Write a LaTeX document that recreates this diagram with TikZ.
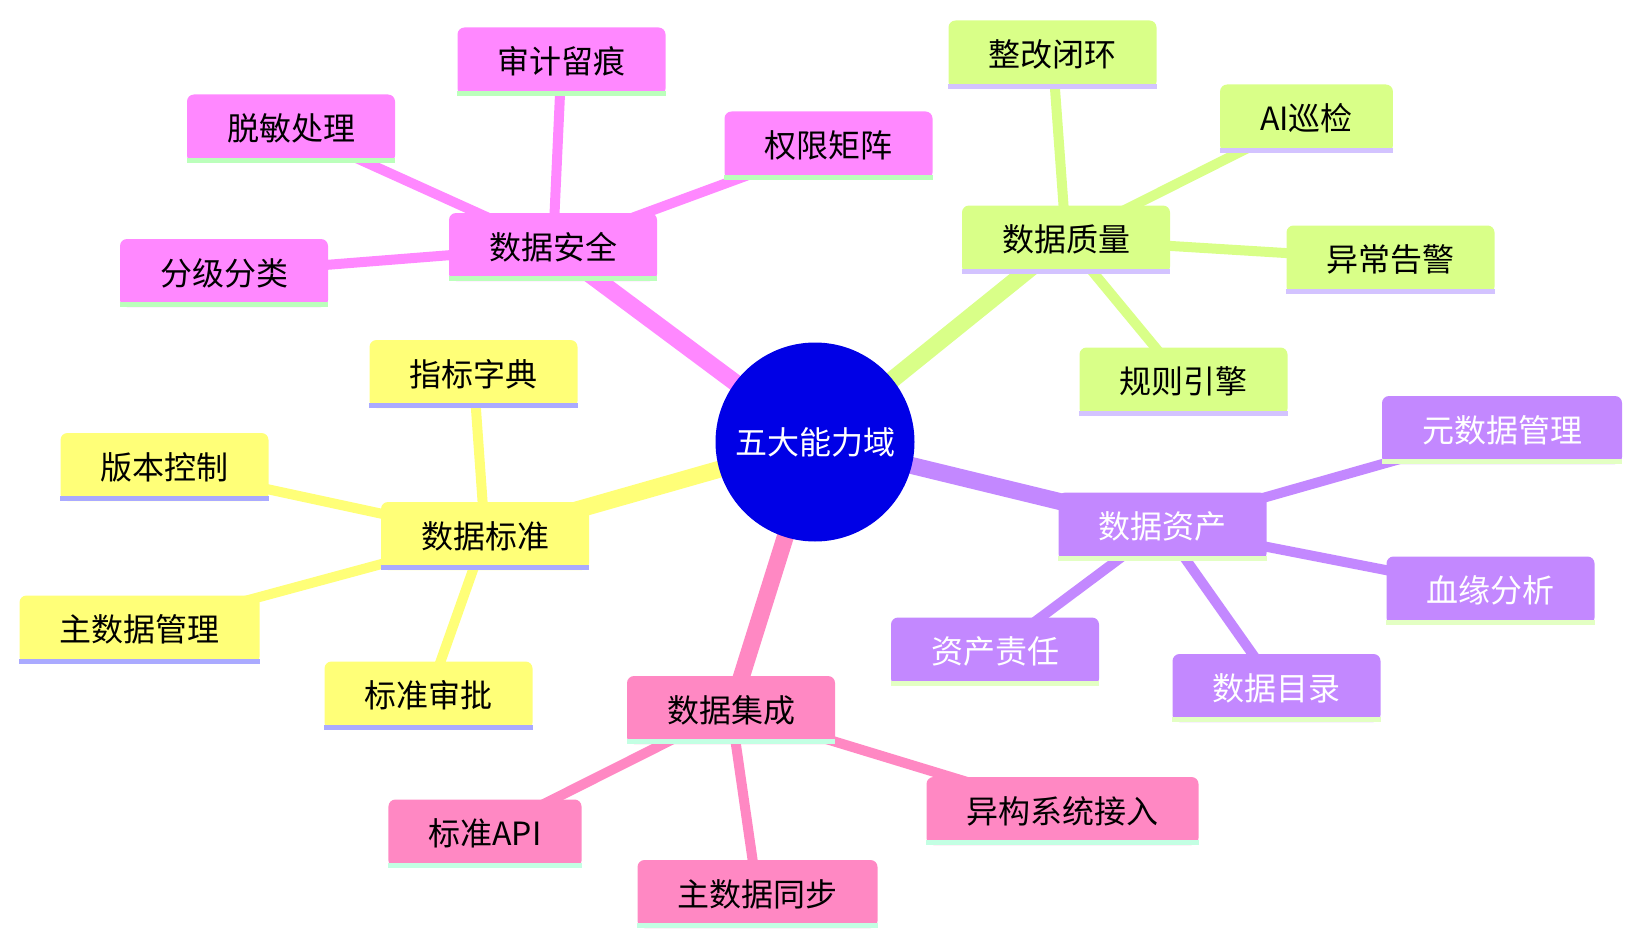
\documentclass[tikz,border=0pt]{standalone}
\usepackage{fontspec}
\newfontfamily\cjk{Noto Sans CJK SC}
\usetikzlibrary{backgrounds}
\definecolor{rootfill}{RGB}{0,0,230}
\definecolor{secfill}{HTML}{FF88FF}
\definecolor{secline}{HTML}{BBFFBB}
\definecolor{quafill}{HTML}{D9FF88}
\definecolor{qualine}{HTML}{D3C3FF}
\definecolor{astfill}{HTML}{C388FF}
\definecolor{astline}{HTML}{E3FFC3}
\definecolor{intfill}{HTML}{FF88C3}
\definecolor{intline}{HTML}{C3FFE3}
\definecolor{stdfill}{HTML}{FFFF78}
\definecolor{stdline}{HTML}{AAAAFF}
\tikzset{
  mmbox/.style={rounded corners=7pt, inner xsep=40pt, inner ysep=0pt,
    minimum height=68pt, text=black, font=\cjk\fontsize{32}{37}\selectfont},
  underline/.style={append after command={
    ([yshift=2.5pt]\tikzlastnode.south west) edge[draw=#1, line width=5pt]
    ([yshift=2.5pt]\tikzlastnode.south east)}},
  secbox/.style={mmbox, fill=secfill, underline=secline},
  quabox/.style={mmbox, fill=quafill, underline=qualine},
  astbox/.style={mmbox, fill=astfill, underline=astline, text=white},
  intbox/.style={mmbox, fill=intfill, underline=intline},
  stdbox/.style={mmbox, fill=stdfill, underline=stdline},
  mainedge/.style={line width=17pt},
  subedge/.style={line width=10pt},
}
\begin{document}
\begin{tikzpicture}[x=1pt, y=-1pt]
    \useasboundingbox (0,0) rectangle (1642,947);
    \node[circle, fill=rootfill, minimum size=199pt, inner sep=0pt, text=white,
      font=\cjk\fontsize{32}{37}\selectfont] (root) at (815,442) {五大能力域};

    % 数据安全
    \node[secbox] (sec) at (553,247) {数据安全};
    \node[secbox] (secaudit) at (561.5,61.5) {审计留痕};
    \node[secbox] (secmask) at (291,128.5) {脱敏处理};
    \node[secbox] (secperm) at (828.5,145.5) {权限矩阵};
    \node[secbox] (secgrade) at (224,273) {分级分类};

    % 数据质量
    \node[quabox] (qua) at (1066,239.5) {数据质量};
    \node[quabox] (quafix) at (1052.5,54.5) {整改闭环};
    \node[quabox] (quaai) at (1306.5,118.5) {AI巡检};
    \node[quabox] (quaalert) at (1390.5,259.5) {异常告警};
    \node[quabox] (quarule) at (1183.5,381.5) {规则引擎};

    % 数据资产
    \node[astbox] (ast) at (1162.5,526.5) {数据资产};
    \node[astbox] (astmeta) at (1502,430) {元数据管理};
    \node[astbox] (astlin) at (1490.5,590.5) {血缘分析};
    \node[astbox] (astcat) at (1276.5,688) {数据目录};
    \node[astbox] (astown) at (995,651.5) {资产责任};

    % 数据集成
    \node[intbox] (intg) at (731,710) {数据集成};
    \node[intbox] (intghet) at (1062.5,811) {异构系统接入};
    \node[intbox] (intgsync) at (757.5,894) {主数据同步};
    \node[intbox] (intgapi) at (485,833.5) {标准API};

    % 数据标准
    \node[stdbox] (std) at (485,536) {数据标准};
    \node[stdbox] (stddict) at (473.5,374) {指标字典};
    \node[stdbox] (stdver) at (164.5,467) {版本控制};
    \node[stdbox] (stdmdm) at (139.5,629.5) {主数据管理};
    \node[stdbox] (stdappr) at (428.5,695.5) {标准审批};

    \begin{scope}[on background layer]
        \draw[mainedge, secfill] (root.center) -- (sec.center);
        \draw[mainedge, quafill] (root.center) -- (qua.center);
        \draw[mainedge, astfill] (root.center) -- (ast.center);
        \draw[mainedge, intfill] (root.center) -- (intg.center);
        \draw[mainedge, stdfill] (root.center) -- (std.center);
        \foreach \n in {secaudit, secmask, secperm, secgrade}
            \draw[subedge, secfill] (sec.center) -- (\n.center);
        \foreach \n in {quafix, quaai, quaalert, quarule}
            \draw[subedge, quafill] (qua.center) -- (\n.center);
        \foreach \n in {astmeta, astlin, astcat, astown}
            \draw[subedge, astfill] (ast.center) -- (\n.center);
        \foreach \n in {intghet, intgsync, intgapi}
            \draw[subedge, intfill] (intg.center) -- (\n.center);
        \foreach \n in {stddict, stdver, stdmdm, stdappr}
            \draw[subedge, stdfill] (std.center) -- (\n.center);
    \end{scope}
\end{tikzpicture}
\end{document}
